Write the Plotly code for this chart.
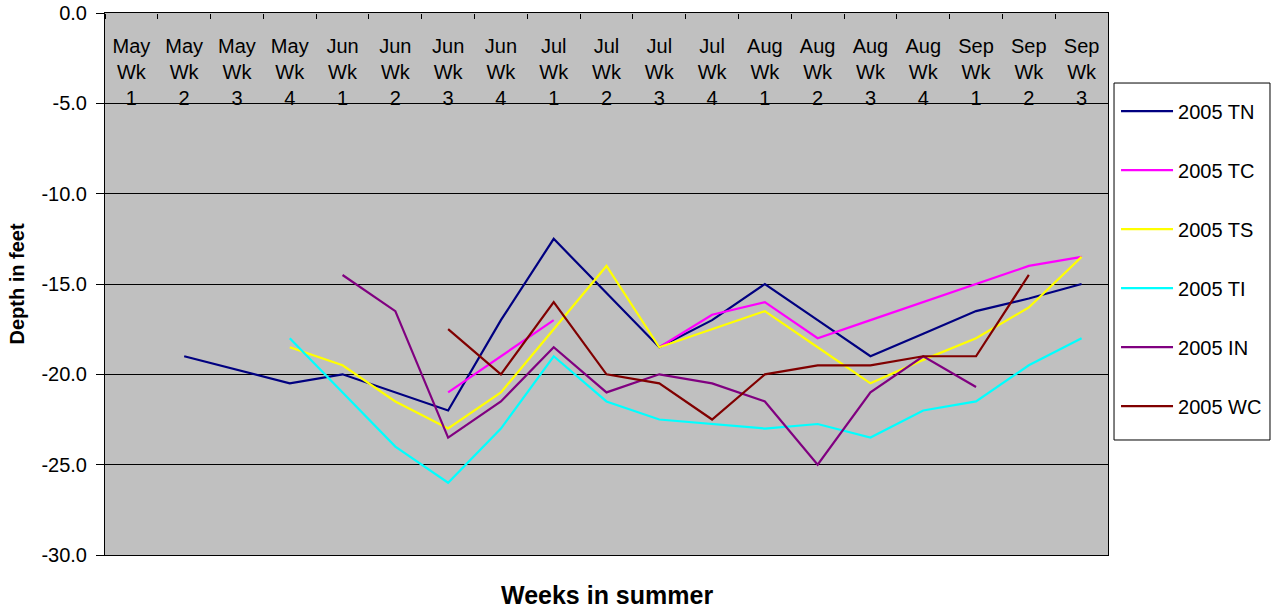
import plotly.graph_objects as go

# Kategorien (Wochen)
weeks = ["May<br>Wk<br>1", "May<br>Wk<br>2", "May<br>Wk<br>3", "May<br>Wk<br>4",
         "Jun<br>Wk<br>1", "Jun<br>Wk<br>2", "Jun<br>Wk<br>3", "Jun<br>Wk<br>4",
         "Jul<br>Wk<br>1", "Jul<br>Wk<br>2", "Jul<br>Wk<br>3", "Jul<br>Wk<br>4",
         "Aug<br>Wk<br>1", "Aug<br>Wk<br>2", "Aug<br>Wk<br>3", "Aug<br>Wk<br>4",
         "Sep<br>Wk<br>1", "Sep<br>Wk<br>2", "Sep<br>Wk<br>3"]

# Tiefen in Fuß je Messstelle
tn = [None, -19, -19.75, -20.5, -20, -21, -22, -17, -12.5, -15.5, -18.5, -17, -15, -17, -19, -17.75, -16.5, -15.8, -15]
tc = [None, None, None, None, None, None, -21, -19, -17, None, -18.5, -16.7, -16, -18, -17, -16, -15, -14, -13.5]
ts = [None, None, None, -18.5, -19.5, -21.5, -23, -21, -17.5, -14, -18.5, -17.5, -16.5, -18.5, -20.5, -19.2, -18, -16.3, -13.5]
ti = [None, None, None, -18, -21, -24, -26, -23, -19, -21.5, -22.5, -22.75, -23, -22.75, -23.5, -22, -21.5, -19.5, -18]
inn = [None, None, None, None, -14.5, -16.5, -23.5, -21.5, -18.5, -21, -20, -20.5, -21.5, -25, -21, -19, -20.7, None, None]
wc = [None, None, None, None, None, None, -17.5, -20, -16, -20, -20.5, -22.5, -20, -19.5, -19.5, -19, -19, -14.5, None]

# y-Achse
y_ticks = [0, -5, -10, -15, -20, -25, -30]
y_labels = ["0.0", "-5.0", "-10.0", "-15.0", "-20.0", "-25.0", "-30.0"]

series = [
    ("2005 TN", tn, "#000080"),
    ("2005 TC", tc, "#FF00FF"),
    ("2005 TS", ts, "#FFFF00"),
    ("2005 TI", ti, "#00FFFF"),
    ("2005 IN", inn, "#800080"),
    ("2005 WC", wc, "#800000"),
]

FONT = "Liberation Sans, Arial, sans-serif"

fig = go.Figure()
for i, (name, vals, col) in enumerate(series):
    fig.add_trace(go.Scatter(
        x=weeks, y=vals, name=name, mode="lines",
        line=dict(color=col, width=2.2),
        legendgroup=f"g{i}", connectgaps=False
    ))
# Kategorien für die Beschriftungsachse oben (ohne sichtbare Marker)
fig.add_trace(go.Scatter(x=weeks, y=[None] * len(weeks), xaxis="x2",
                         mode="lines", showlegend=False, hoverinfo="skip"))

fig.update_layout(
    width=1272, height=610,
    margin=dict(l=105, r=164, t=13, b=55, autoexpand=False),
    paper_bgcolor="white", plot_bgcolor="#C0C0C0",
    font=dict(family=FONT, size=20, color="black"),
    legend=dict(
        x=1.008, y=0.855, xanchor="left", yanchor="top",
        borderwidth=0, bgcolor="rgba(0,0,0,0)",
        font=dict(size=20), tracegroupgap=30, itemwidth=52,
    ),
    xaxis=dict(
        type="category", range=[-0.5, 18.5], showticklabels=False,
        showline=True, linecolor="black", linewidth=1, mirror=True,
        showgrid=False, automargin=False,
    ),
    xaxis2=dict(
        overlaying="x", anchor="free", position=1, side="bottom",
        type="category", tickson="boundaries", range=[-0.5, 18.5],
        ticks="outside", ticklen=5, tickcolor="black", ticklabelstandoff=19,
        showline=False, showgrid=False, tickfont=dict(size=20), automargin=False,
    ),
    yaxis=dict(
        range=[-30, 0], tickvals=y_ticks, ticktext=y_labels,
        ticks="outside", ticklen=8, tickcolor="black", ticklabelstandoff=5,
        showline=True, linecolor="black", linewidth=1, mirror=True,
        showgrid=True, gridcolor="black", gridwidth=1, zeroline=False,
        tickfont=dict(size=20), automargin=False,
        title=dict(text="<b>Depth in feet</b>", font=dict(size=20), standoff=11),
    ),
    shapes=[dict(
        type="rect", xref="paper", yref="paper",
        x0=1.006, x1=1.1615, y0=0.2122, y1=0.8708,
        line=dict(color="black", width=1), fillcolor="white", layer="below",
    )],
    annotations=[dict(
        text="<b>Weeks in summer</b>", xref="paper", yref="paper",
        x=0.5, y=-0.074, yanchor="middle", showarrow=False,
        font=dict(size=25),
    )],
)

fig.write_html("out.html", config={"displayModeBar": False},
               post_script="document.body.style.margin='0';")
